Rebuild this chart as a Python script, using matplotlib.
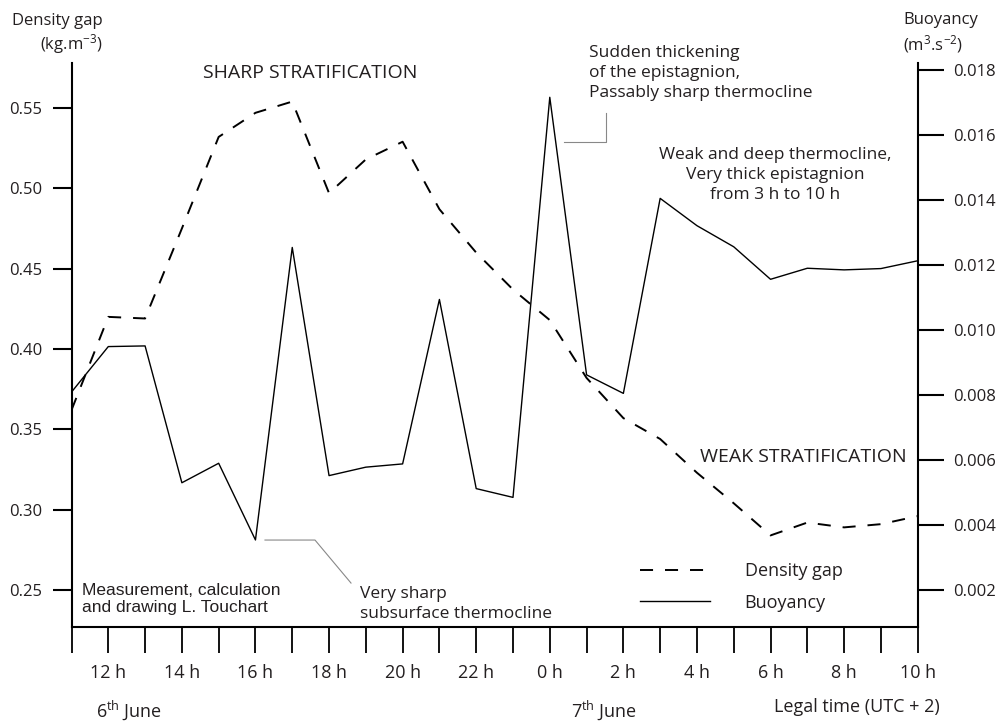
import matplotlib
matplotlib.use("Agg")
import matplotlib.pyplot as plt
from matplotlib.lines import Line2D

# ---------------- data ----------------
hours = list(range(11, 35))  # 11 h on 6 June ... 10 h on 7 June (24 = 0 h)
density_gap = [0.362, 0.420, 0.419, 0.475, 0.532, 0.547, 0.554, 0.497, 0.518, 0.529,
               0.487, 0.460, 0.437, 0.418, 0.382, 0.357, 0.344, 0.323, 0.304, 0.284,
               0.292, 0.289, 0.291, 0.296]
buoyancy = [0.00809, 0.00949, 0.00951, 0.00530, 0.00590, 0.00354, 0.01254, 0.00552,
            0.00578, 0.00588, 0.01094, 0.00512, 0.00485, 0.01716, 0.00862, 0.00805,
            0.01405, 0.01321, 0.01256, 0.01156, 0.01190, 0.01185, 0.01189, 0.01213]
left_ticks = [0.25, 0.30, 0.35, 0.40, 0.45, 0.50, 0.55]
right_ticks = [0.002, 0.004, 0.006, 0.008, 0.010, 0.012, 0.014, 0.016, 0.018]
xtick_labels = ["" if h % 2 else f"{h % 24} h" for h in hours]

FONT = "Open Sans"
TXT = "#231f20"
plt.rcParams["font.family"] = [FONT, "DejaVu Sans"]
plt.rcParams["mathtext.fontset"] = "custom"
plt.rcParams["mathtext.rm"] = FONT
plt.rcParams["mathtext.it"] = FONT
plt.rcParams["lines.scale_dashes"] = False

W, H = 997, 722
fig = plt.figure(figsize=(W / 100, H / 100), dpi=100)
fig.patch.set_facecolor("white")

x0, x1, ytop, ybot = 71.5, 917.7, 63, 627
ax = fig.add_axes([x0 / W, 1 - ybot / H, (x1 - x0) / W, (ybot - ytop) / H])
ax2 = ax.twinx()

ax.set_xlim(11, 34)
ax.set_ylim(0.2270, 0.5780)
ax2.set_ylim(0.000862, 0.018215)

ax.plot(hours, density_gap, color="black", lw=1.4, dashes=(9.4, 8.6),
        label="Density gap")
ax2.plot(hours, buoyancy, color="black", lw=1.0, label="Buoyancy")

for a in (ax, ax2):
    a.spines["top"].set_visible(False)
    a.patch.set_visible(False)
ax.spines["right"].set_visible(False)
ax2.spines["left"].set_visible(False)
ax2.spines["bottom"].set_visible(False)
for s in ("left", "bottom"):
    ax.spines[s].set_linewidth(1.5)
ax2.spines["right"].set_linewidth(1.5)

ax.set_xticks(hours)
ax.set_xticklabels(xtick_labels, fontsize=13, color=TXT)
ax.tick_params(axis="x", direction="out", length=19, width=1.3, pad=8)
ax.set_yticks(left_ticks)
ax.set_yticklabels([f"{v:.2f}" for v in left_ticks], fontsize=12, color=TXT)
ax.tick_params(axis="y", direction="out", length=14, width=1.5, pad=7)
ax2.set_yticks(right_ticks)
ax2.set_yticklabels([f"{v:.3f}" for v in right_ticks], fontsize=12, color=TXT)
ax2.tick_params(axis="y", direction="out", length=18.5, width=1.5, pad=7)

def fx(px):
    return px / W

def fy(py):
    return 1 - py / H

# axis titles
fig.text(fx(103), fy(21), "Density gap", ha="right", va="center", fontsize=12, color=TXT)
fig.text(fx(103), fy(44), "(kg.m$^{-3}$)", ha="right", va="center", fontsize=12, color=TXT)
fig.text(fx(903), fy(20), "Buoyancy", ha="left", va="center", fontsize=12, color=TXT)
fig.text(fx(903), fy(44), "(m$^{3}$.s$^{-2}$)", ha="left", va="center", fontsize=12, color=TXT)

fig.text(fx(129), fy(710), "6$^{\\rm th}$ June", ha="center", va="center", fontsize=13, color=TXT)
fig.text(fx(604), fy(710), "7$^{\\rm th}$ June", ha="center", va="center", fontsize=13, color=TXT)
fig.text(fx(940), fy(707), "Legal time (UTC + 2)", ha="right", va="center", fontsize=13, color=TXT)

# in-plot annotations (pixel -> data helpers)
def hx(px):
    return 11 + (px - x0) / ((x1 - x0) / 23)

def ly(py):
    return 0.25 + (590 - py) / 1607

ax.text(hx(310), ly(73), "SHARP STRATIFICATION", ha="center", va="center",
        fontsize=14, color=TXT)
ax.text(hx(907), ly(457), "WEAK STRATIFICATION", ha="right", va="center",
        fontsize=14, color=TXT)
ax.text(hx(589), ly(73), "Sudden thickening\nof the epistagnion,\nPassably sharp thermocline",
        ha="left", va="center", fontsize=12.5, color=TXT, linespacing=1.3)
ax.text(hx(775), ly(175), "Weak and deep thermocline,\nVery thick epistagnion\nfrom 3 h to 10 h",
        ha="center", va="center", fontsize=12.5, color=TXT, linespacing=1.3)
ax.text(hx(360), ly(604), "Very sharp\nsubsurface thermocline", ha="left", va="center",
        fontsize=12.5, color=TXT, linespacing=1.35)
ax.text(hx(82), ly(599), "Measurement, calculation\nand drawing L. Touchart", ha="left",
        va="center", fontsize=12.5, color=TXT, linespacing=1.15,
        family=["Liberation Sans", "DejaVu Sans"])

# leader lines
ax.add_line(Line2D([hx(265), hx(315), hx(351)], [ly(540), ly(540), ly(583)],
                   color="#888888", lw=0.8))
ax.add_line(Line2D([hx(605.7), hx(605.7), hx(564)], [ly(113), ly(142), ly(142)],
                   color="#888888", lw=0.8))

# legend
h1, = ax.get_lines()[:1]
h2, = ax2.get_lines()[:1]
leg = ax.legend([h1, h2], ["Density gap", "Buoyancy"], loc="upper left",
                bbox_to_anchor=((640 - x0) / (x1 - x0), (ybot - 562) / (ybot - ytop)),
                frameon=False, fontsize=13, handlelength=3.9, handletextpad=1.9,
                labelspacing=0.75, borderpad=0, borderaxespad=0)
for t in leg.get_texts():
    t.set_color(TXT)

fig.savefig("out.png", dpi=100, facecolor="white")
